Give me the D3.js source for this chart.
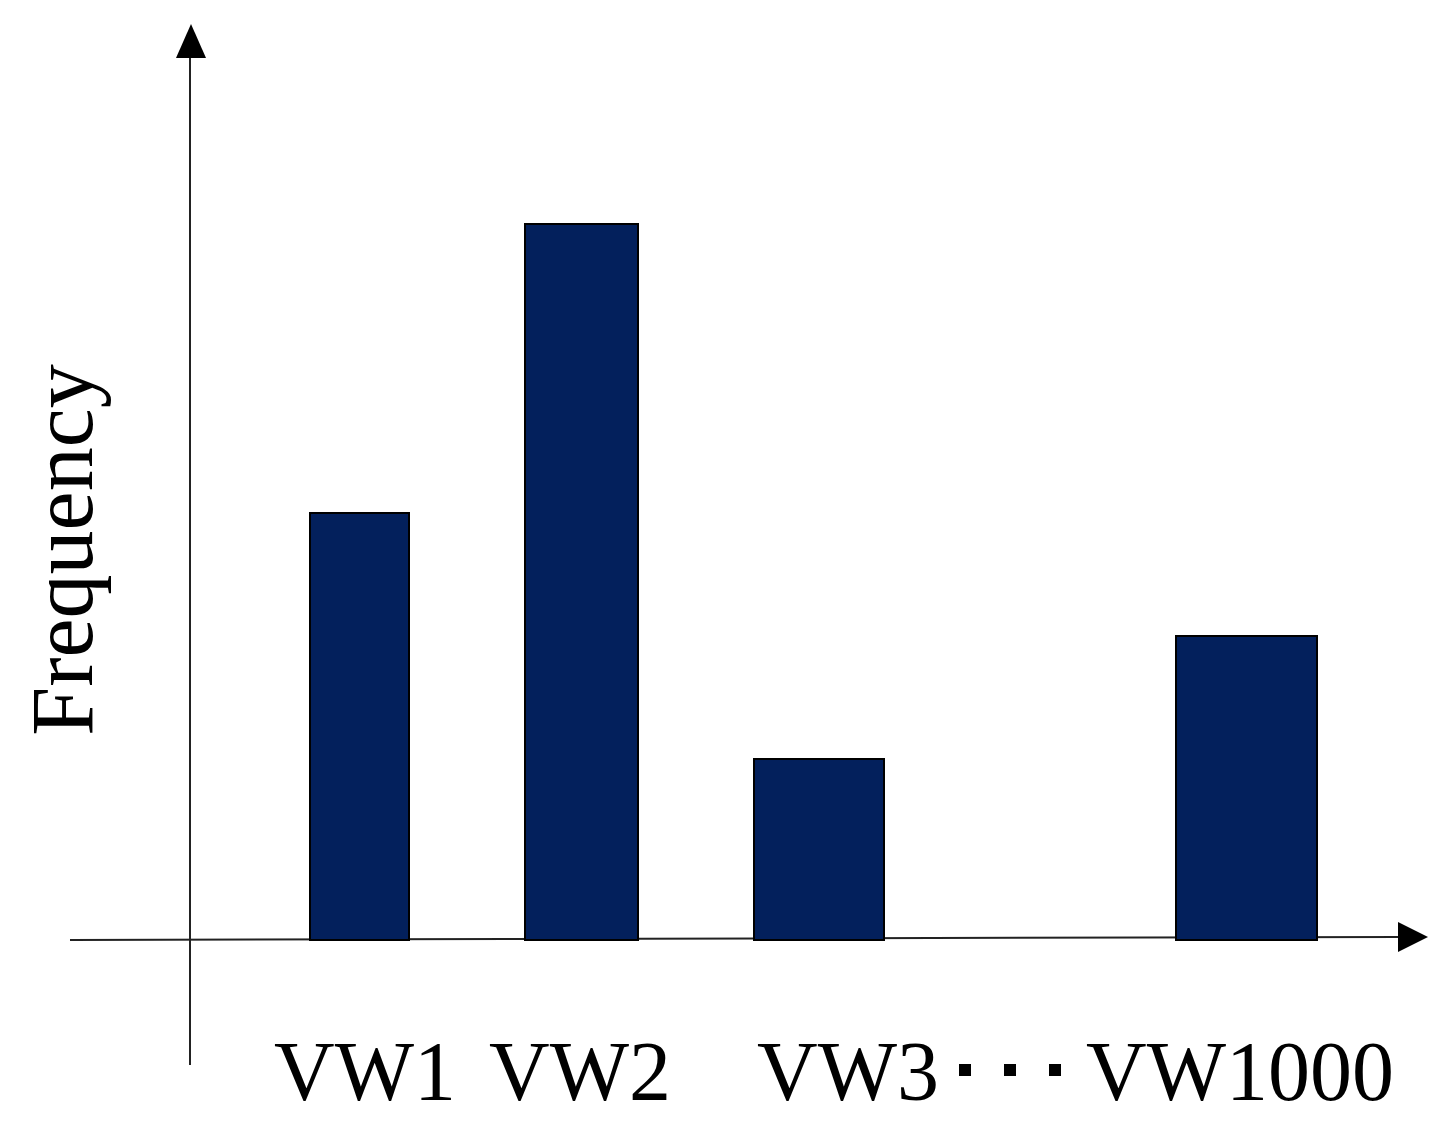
<!DOCTYPE html>
<html><head><meta charset="utf-8">
<script src="https://cdn.jsdelivr.net/npm/d3@7"></script>
<style>body{margin:0;background:#fff}</style>
</head><body>
<script>
// Bar data: label, frequency, and bar extent along x (domain units 0..1000)
var categories = ['VW1', 'VW2', 'VW3', 'VW1000'];
var frequencies = [427, 716, 181, 304];
var barStart = [310, 525, 754, 1176];
var barEnd = [409, 638, 884, 1317];
var labelCenters = [365, 580, 848, 1240];
var dotPositions = [965, 1010, 1055];

var svg = d3.select('body').append('svg')
	.attr('width', 1451).attr('height', 1130);

var x = d3.scaleLinear().domain([0, 1451]).range([0, 1451]);
var y = d3.scaleLinear().domain([0, 800]).range([940, 140]);

// axes
svg.append('line').attr('x1', 70).attr('x2', 1400).attr('y1', y(0)).attr('y2', y(0) - 3)
	.attr('stroke', '#222').attr('stroke-width', 2);
svg.append('path').attr('d', 'M1398,922 L1428,937 L1398,952 Z').attr('fill', '#000');
svg.append('line').attr('x1', 190).attr('x2', 190).attr('y1', 1065).attr('y2', 50)
	.attr('stroke', '#222').attr('stroke-width', 2);
svg.append('path').attr('d', 'M176,58 L191,24 L206,58 Z').attr('fill', '#000');

svg.selectAll('rect.bar').data(categories).enter().append('rect')
	.attr('class', 'bar')
	.attr('x', function(d, i) { return x(barStart[i]); })
	.attr('width', function(d, i) { return x(barEnd[i]) - x(barStart[i]); })
	.attr('y', function(d, i) { return y(frequencies[i]); })
	.attr('height', function(d, i) { return y(0) - y(frequencies[i]); })
	.attr('fill', '#03205c').attr('stroke', '#000').attr('stroke-width', 2);

svg.selectAll('text.lbl').data(categories).enter().append('text')
	.attr('x', function(d, i) { return x(labelCenters[i]); })
	.attr('y', 1100).attr('text-anchor', 'middle')
	.attr('font-family', 'Liberation Serif, serif').attr('font-size', 84)
	.text(function(d) { return d; });

svg.selectAll('rect.dot').data(dotPositions).enter().append('rect')
	.attr('x', function(d) { return x(d) - 6; }).attr('y', 1064)
	.attr('width', 12).attr('height', 12).attr('fill', '#000');

svg.append('text').attr('transform', 'translate(92,550) rotate(-90)')
	.attr('text-anchor', 'middle')
	.attr('font-family', 'Liberation Serif, serif').attr('font-size', 88)
	.text('Frequency');
</script>
</body></html>
